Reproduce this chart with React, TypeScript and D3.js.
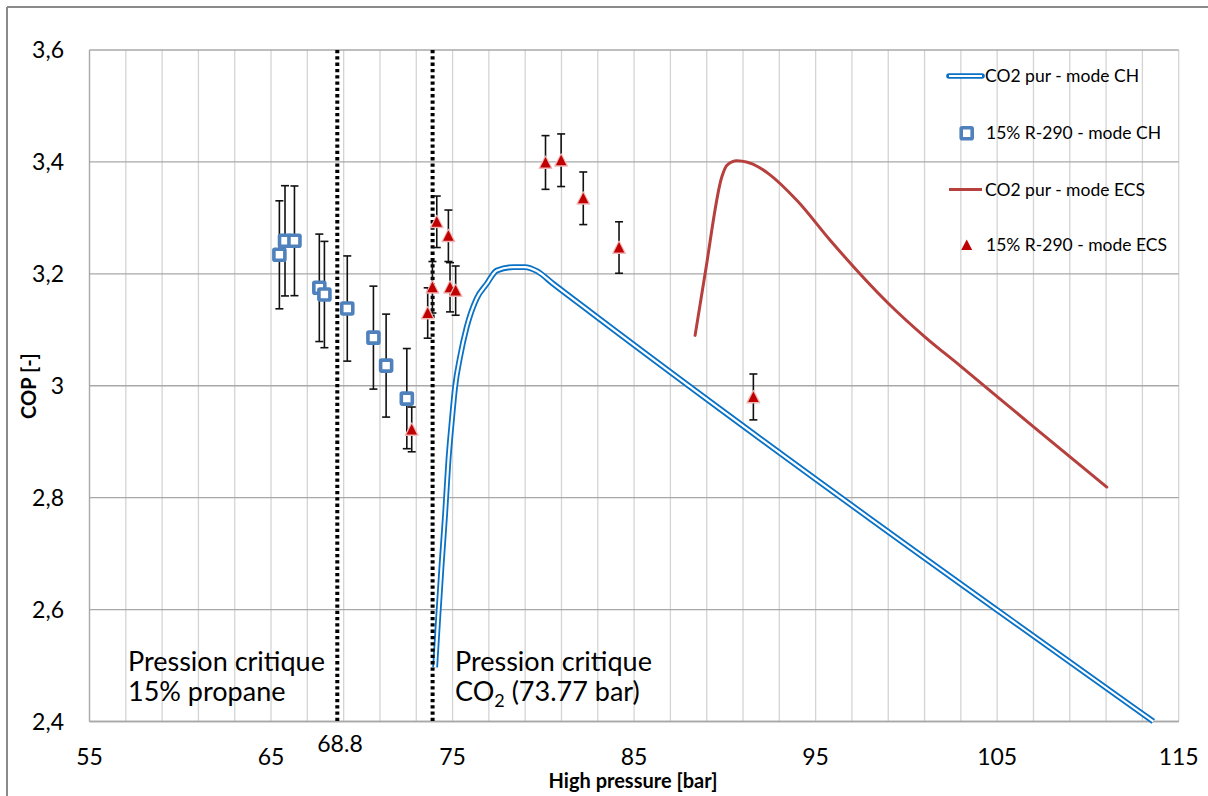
import React from "react";
import * as d3 from "d3";

// ---------- DATA ----------
const xTicks = [55, 65, 75, 85, 95, 105, 115];
const xGrid = d3.range(55, 116, 2);
const yTicks = [2.4, 2.6, 2.8, 3.0, 3.2, 3.4, 3.6];
const yTickLabels = ["2,4", "2,6", "2,8", "3", "3,2", "3,4", "3,6"];

// 15% R-290 - mode CH (squares)
const chPressure = [65.46, 65.77, 66.29, 67.66, 67.94, 69.2, 70.64, 71.34, 72.48];
const chCop = [3.234, 3.259, 3.259, 3.175, 3.163, 3.138, 3.086, 3.036, 2.977];
const chErr = [0.0965, 0.0985, 0.098, 0.096, 0.095, 0.094, 0.092, 0.092, 0.0895];

// 15% R-290 - mode ECS (triangles)
const ecsPressure = [72.75, 73.63, 73.89, 74.13, 74.77, 74.86, 75.17, 80.12, 80.98, 82.2, 84.17, 91.57];
const ecsCop = [2.922, 3.13, 3.176, 3.293, 3.268, 3.176, 3.17, 3.399, 3.403, 3.335, 3.247, 2.98];
const ecsErr = [0.04, 0.045, 0.046, 0.046, 0.046, 0.044, 0.044, 0.048, 0.047, 0.047, 0.046, 0.041];

// CO2 pur - mode CH (blue double line)
const co2ChPressure = [74.04, 74.22, 74.4, 74.59, 74.77, 74.96, 75.14, 75.41, 75.78, 76.33, 76.88, 77.44, 78.35, 78.99, 79.64, 80.55, 82.58, 113.6];
const co2ChCop = [2.497, 2.592, 2.682, 2.771, 2.866, 2.938, 2.998, 3.051, 3.105, 3.156, 3.182, 3.206, 3.212, 3.212, 3.205, 3.182, 3.132, 2.4];

// CO2 pur - mode ECS (red line)
const co2EcsPressure = [88.36, 88.91, 89.83, 90.11, 90.66, 91.85, 92.4, 94.0, 95.8, 99.01, 101.03, 102.95, 106.99, 111.04];
const co2EcsCop = [3.09, 3.2, 3.373, 3.394, 3.402, 3.391, 3.379, 3.33, 3.26, 3.147, 3.087, 3.036, 2.927, 2.819];

// Critical pressure markers (dotted lines)
const criticalLines = [68.65, 73.9];
const criticalTickValue = 68.8;
const criticalTickLabel = "68.8";

const legendLabels = [
  "CO2 pur - mode CH",
  "15% R-290 - mode CH",
  "CO2 pur - mode ECS",
  "15% R-290 - mode ECS",
];

// ---------- STYLE ----------
const FONT = "Lato, 'Open Sans', sans-serif";
const BLUE_LINE = "#0A72C6";
const SQUARE = "#4F81BD";
const RED_LINE = "#B5403D";
const TRI = "#C00000";

export default function App() {
  const x = d3.scaleLinear().domain([55, 115]).range([89.5, 1178.7]);
  const y = d3.scaleLinear().domain([2.4, 3.6]).range([721.5, 50]);

  const line = d3
    .line<[number, number]>()
    .x((d) => x(d[0]))
    .y((d) => y(d[1]))
    .curve(d3.curveMonotoneX);

  const chLinePts: [number, number][] = co2ChPressure.map((p, i) => [p, co2ChCop[i]]);
  const ecsLinePts: [number, number][] = co2EcsPressure.map((p, i) => [p, co2EcsCop[i]]);
  const chPath = line(chLinePts) || "";
  const ecsPath = line(ecsLinePts) || "";

  const tri = (cx: number, cy: number, w = 11, h = 10) =>
    `M${cx},${cy - h / 2 - 0.5} L${cx + w / 2},${cy + h / 2} L${cx - w / 2},${cy + h / 2} Z`;

  const errBar = (px: number, v: number, e: number, key: string) => {
    const x0 = x(px);
    const y1 = y(v + e);
    const y2 = y(v - e);
    return (
      <g key={key} stroke="#111" strokeWidth={1.6}>
        <line x1={x0} x2={x0} y1={y1} y2={y2} />
        <line x1={x0 - 4} x2={x0 + 4} y1={y1} y2={y1} />
        <line x1={x0 - 4} x2={x0 + 4} y1={y2} y2={y2} />
      </g>
    );
  };

  const plotLeft = x(55);
  const plotRight = x(115);
  const plotTop = y(3.6);
  const plotBottom = y(2.4);

  return (
    <svg
      width={1208}
      height={796}
      style={{ position: "absolute", left: 0, top: 0, background: "#fff" }}
      fontFamily={FONT}
    >
      <rect x={0} y={0} width={1208} height={796} fill="#fff" />
      {/* outer chart frame */}
      <line x1={7} x2={7} y1={7} y2={796} stroke="#8a8a8a" strokeWidth={2} />
      <line x1={7} x2={1208} y1={7} y2={7} stroke="#8a8a8a" strokeWidth={2} />

      {/* vertical grid */}
      {xGrid.map((g) => (
        <line key={"vg" + g} x1={x(g)} x2={x(g)} y1={plotTop} y2={plotBottom} stroke="#d4d4d4" strokeWidth={1.3} />
      ))}
      {/* horizontal grid */}
      {yTicks.map((t) => (
        <line key={"hg" + t} x1={plotLeft} x2={plotRight} y1={y(t)} y2={y(t)} stroke="#a8a8a8" strokeWidth={1.3} />
      ))}
      {/* axes */}
      <line x1={plotLeft} x2={plotLeft} y1={plotTop} y2={plotBottom} stroke="#a8a8a8" strokeWidth={1.3} />
      <line x1={plotLeft} x2={plotRight} y1={plotBottom} y2={plotBottom} stroke="#a8a8a8" strokeWidth={1.3} />

      {/* y tick labels */}
      {yTicks.map((t, i) => (
        <text key={"yt" + t} x={64} y={y(t)} dy="0.35em" textAnchor="end" fontSize={23} fill="#000">
          {yTickLabels[i]}
        </text>
      ))}
      {/* x tick labels */}
      {xTicks.map((t) => (
        <text key={"xt" + t} x={x(t)} y={757} dy="0.35em" textAnchor="middle" fontSize={23} fill="#000">
          {t}
        </text>
      ))}
      <text x={x(criticalTickValue)} y={744} dy="0.35em" textAnchor="middle" fontSize={23} fill="#000">
        {criticalTickLabel}
      </text>

      {/* axis titles */}
      <text x={633} y={781} dy="0.35em" textAnchor="middle" fontSize={20} fontWeight="bold" fill="#000">
        High pressure [bar]
      </text>
      <text
        transform={`translate(29,386) rotate(-90)`}
        dy="0.35em"
        textAnchor="middle"
        fontSize={20}
        fontWeight="bold"
        fill="#000"
      >
        COP [-]
      </text>

      {/* blue double line */}
      <path d={chPath} fill="none" stroke={BLUE_LINE} strokeWidth={5.8} strokeLinejoin="round" />
      <path d={chPath} fill="none" stroke="#fff" strokeWidth={2.2} strokeLinejoin="round" />

      {/* red line */}
      <path d={ecsPath} fill="none" stroke={RED_LINE} strokeWidth={3} strokeLinejoin="round" strokeLinecap="round" />

      {/* critical pressure dotted lines */}
      {criticalLines.map((c) => (
        <line
          key={"cl" + c}
          x1={x(c)}
          x2={x(c)}
          y1={plotTop}
          y2={plotBottom}
          stroke="#000"
          strokeWidth={4}
          strokeDasharray="3.3 3"
        />
      ))}

      {/* square series error bars + markers */}
      {chPressure.map((p, i) => errBar(p, chCop[i], chErr[i], "ce" + i))}
      {chPressure.map((p, i) => (
        <rect
          key={"sq" + i}
          x={x(p) - 5.5}
          y={y(chCop[i]) - 5.5}
          width={11}
          height={11}
          fill="#fff"
          stroke={SQUARE}
          strokeWidth={3.6}
          rx={1}
        />
      ))}

      {/* triangle series error bars + markers */}
      {ecsPressure.map((p, i) => errBar(p, ecsCop[i], ecsErr[i], "ee" + i))}
      {ecsPressure.map((p, i) => (
        <g key={"tr" + i}>
          <path d={tri(x(p), y(ecsCop[i]), 12.5, 11.5)} fill="#eeaaaa" stroke="#f0b8b8" strokeWidth={1.5} strokeLinejoin="round" />
          <path d={tri(x(p), y(ecsCop[i]), 10.5, 10)} fill={TRI} />
        </g>
      ))}

      {/* annotations */}
      <text x={128} y={671} fontSize={27} fill="#000">Pression critique</text>
      <text x={128} y={701} fontSize={27} fill="#000">15% propane</text>
      <text x={455} y={671} fontSize={27} fill="#000">Pression critique</text>
      <text x={455} y={701} fontSize={27} fill="#000">
        CO<tspan fontSize={18} dy={6}>2</tspan>
        <tspan dy={-6}> (73.77 bar)</tspan>
      </text>

      {/* legend */}
      <g>
        <line x1={949} x2={982} y1={76} y2={76} stroke={BLUE_LINE} strokeWidth={5.6} strokeLinecap="round" />
        <line x1={949} x2={982} y1={76} y2={76} stroke="#fff" strokeWidth={2.2} />
        <text x={985} y={76} dy="0.35em" fontSize={17.5} fill="#000">{legendLabels[0]}</text>

        <rect x={961.2} y={127.8} width={11} height={11} fill="#fff" stroke={SQUARE} strokeWidth={3.6} rx={1} />
        <text x={986} y={133} dy="0.35em" fontSize={17.5} fill="#000">{legendLabels[1]}</text>

        <line x1={949} x2={982} y1={189.5} y2={189.5} stroke={RED_LINE} strokeWidth={3} />
        <text x={985} y={189.5} dy="0.35em" fontSize={17.5} fill="#000">{legendLabels[2]}</text>

        <path d={tri(966.7, 245, 11, 10)} fill={TRI} />
        <text x={986} y={245} dy="0.35em" fontSize={17.5} fill="#000">{legendLabels[3]}</text>
      </g>
    </svg>
  );
}
